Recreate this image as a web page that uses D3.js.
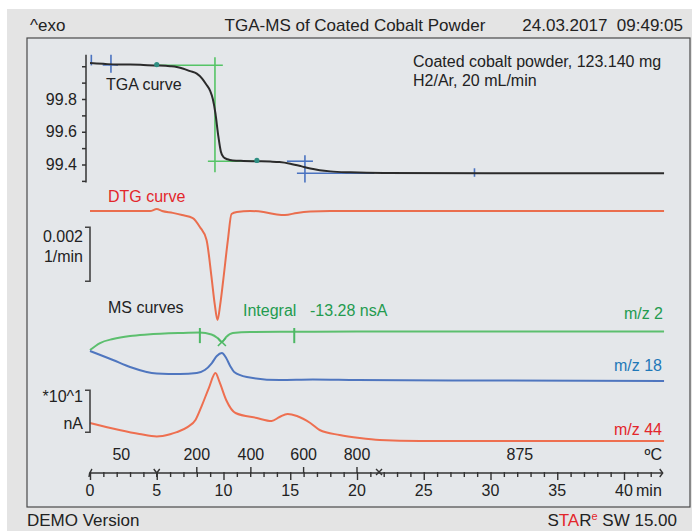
<!DOCTYPE html>
<html>
<head>
<meta charset="utf-8">
<script src="https://cdn.jsdelivr.net/npm/d3@7"></script>
<style>
  body { margin: 0; background: #fff; }
  svg { display: block; font-family: "Liberation Sans", Arial, sans-serif; }
</style>
</head>
<body>
<script>
// time axis (min) and furnace temperature labels (°C)
const timeTicks = [0, 5, 10, 15, 20, 25, 30, 35, 40];
const tempLabels = ["50", "200", "400", "600", "800", "875"];
const tempTimes = [2.35, 8.0, 12.05, 16.0, 20.0, 32.2];
const tempTickTimes = [8.0, 12.05, 16.0, 20.0];

// TGA curve, mass %
const tgaTime = [0, 1, 2, 3, 4, 5, 6, 6.5, 7, 7.5, 8, 8.4, 8.7, 9.0, 9.2, 9.4, 9.6, 9.8, 10.0, 10.3, 10.7, 11.5, 12.5, 13.5, 14.2, 15.0, 15.8, 16.5, 17.2, 18, 19.5, 22, 30, 43];
const tgaMass = [100.02, 100.015, 100.01, 100.01, 100.008, 100.005, 100.0, 99.995, 99.985, 99.97, 99.955, 99.925, 99.89, 99.85, 99.8, 99.71, 99.58, 99.48, 99.445, 99.432, 99.425, 99.422, 99.42, 99.418, 99.415, 99.405, 99.39, 99.375, 99.365, 99.358, 99.352, 99.348, 99.347, 99.347];
const tgaTicks = [100.0, 99.9, 99.8, 99.7, 99.6, 99.5, 99.4, 99.3];
const tgaLabelled = [99.8, 99.6, 99.4];

// step evaluation lines on the TGA curve
const stepLines = [
  [5.0, 100.006, 9.95, 100.006],
  [9.36, 100.055, 9.36, 99.353],
  [8.83, 99.42, 12.5, 99.42]
];
const stepDots = [[5.0, 100.01], [12.5, 99.425]];
const blueMarks = [
  [0.1, 100.07, 0.1, 100.005],
  [1.57, 100.07, 1.57, 99.96],
  [0.95, 100.008, 2.1, 100.008],
  [14.75, 99.42, 16.7, 99.42],
  [15.5, 99.347, 21.3, 99.347],
  [16.1, 99.457, 16.1, 99.29],
  [28.8, 99.377, 28.8, 99.325]
];

// DTG curve, 1/min
const dtgTime = [0, 2, 4.5, 5.0, 5.4, 6.2, 6.9, 7.7, 8.23, 8.73, 9.1, 9.35, 9.55, 9.75, 9.98, 10.33, 10.6, 11.0, 12.0, 13.0, 14.0, 14.6, 15.5, 16.5, 18, 43];
const dtgRate = [0, 0, 0, 0.00007, 0, -0.00007, -0.00015, -0.00026, -0.00059, -0.00107, -0.00244, -0.00348, -0.00404, -0.00348, -0.00256, -0.00107, -0.00011, -0.00004, 0, -0.00004, -0.00013, -0.00015, -0.00007, -0.00002, 0, 0];
const dtgBar = [-0.0026, -0.0006];

// MS ion currents, nA (displayed with offsets)
const ms2Time = [0, 0.75, 1.72, 3.0, 4.3, 6.7, 8.2, 9.1, 9.55, 9.88, 10.2, 10.7, 12, 15.3, 20, 30, 43];
const ms2Val = [21.67, 23.33, 24.29, 25.0, 25.36, 25.71, 25.83, 25.36, 24.52, 23.57, 24.76, 25.71, 25.95, 26.0, 26.07, 26.07, 26.07];
const ms18Time = [0, 1.72, 3.0, 5.0, 6.74, 8.0, 8.6, 9.13, 9.5, 9.88, 10.2, 10.5, 10.8, 11.75, 14.2, 16.7, 20, 30, 43];
const ms18Val = [21.43, 19.29, 17.62, 16.07, 15.95, 16.19, 16.9, 18.57, 20.24, 20.95, 19.76, 17.86, 16.43, 15.24, 14.52, 14.64, 14.52, 14.4, 14.29];
const ms44Time = [0, 2.2, 3.7, 5.0, 6.0, 6.5, 7.3, 7.9, 8.4, 8.9, 9.4, 9.7, 10.2, 10.9, 12.5, 13.6, 14.2, 14.8, 15.5, 16.5, 17.2, 18.7, 20.2, 21.7, 24.7, 43];
const ms44Val = [4.29, 2.62, 1.67, 1.07, 1.6, 2.1, 3.3, 5.0, 8.6, 12.6, 16.19, 14.05, 9.76, 6.67, 5.48, 4.76, 5.71, 6.43, 5.95, 4.29, 2.62, 1.43, 0.71, 0.24, 0, 0];
const integralTicks = [8.23, 15.3];
const msBar = [2.1, 12.1];

const W = 692, H = 531;
const svg = d3.select("body").append("svg").attr("width", W).attr("height", H);

// panels
svg.append("rect").attr("x", 7).attr("y", 9).attr("width", W - 7).attr("height", H - 9).attr("fill", "#e4e4e4");
svg.append("rect").attr("x", 27).attr("y", 38).attr("width", 663).attr("height", 469)
  .attr("fill", "#e4e7ea").attr("stroke", "#4a4a4a").attr("stroke-width", 1.2);

// scales
const x = d3.scaleLinear().domain([0, 40]).range([90, 624]);
const yTga = d3.scaleLinear().domain([99.4, 99.8]).range([164.5, 99]);
const yDtg = d3.scaleLinear().domain([-0.002, 0]).range([265, 211]);
const yMs = d3.scaleLinear().domain([0, 10]).range([441, 399]);

const lineOf = (ts, vs, y) => d3.line().x(i => x(ts[i])).y(i => y(vs[i])).curve(d3.curveMonotoneX)(d3.range(ts.length));

// header & footer
const hdr = svg.append("g").attr("font-size", 17).attr("fill", "#222");
hdr.append("text").attr("x", 30).attr("y", 31).text("^exo");
hdr.append("text").attr("x", 355).attr("y", 31).attr("text-anchor", "middle").text("TGA-MS of Coated Cobalt Powder");
hdr.append("text").attr("x", 683).attr("y", 31).attr("text-anchor", "end").text("24.03.2017  09:49:05").attr("xml:space", "preserve");
svg.append("text").attr("x", 27).attr("y", 526).attr("font-size", 17).attr("fill", "#222").text("DEMO Version");
const star = svg.append("text").attr("x", 677).attr("y", 526).attr("font-size", 17).attr("fill", "#222").attr("text-anchor", "end");
star.append("tspan").text("S");
star.append("tspan").attr("fill", "#e3262b").text("TA");
star.append("tspan").text("R");
star.append("tspan").attr("fill", "#e3262b").attr("font-size", 11).attr("dy", -6).text("e");
star.append("tspan").attr("dy", 6).text(" SW 15.00");

// TGA axis
const gTga = svg.append("g").attr("transform", "translate(86,0)")
  .call(d3.axisLeft(yTga).tickValues(tgaTicks).tickSize(4).tickPadding(5)
    .tickFormat(d => tgaLabelled.some(v => Math.abs(v - d) < 1e-6) ? d3.format(".1f")(d) : ""));
gTga.select(".domain").remove();
gTga.selectAll(".tick line").attr("stroke", "#333").attr("stroke-width", 1.5);
gTga.selectAll(".tick text").attr("font-size", 16).attr("fill", "#222").attr("font-family", "Liberation Sans, Arial, sans-serif");
gTga.append("line").attr("y1", yTga(100.07)).attr("y2", yTga(99.29)).attr("stroke", "#333").attr("stroke-width", 1.5);

// TGA markers
const seg = (g, arr, color, w) => g.selectAll(null).data(arr).join("line")
  .attr("x1", d => x(d[0])).attr("y1", d => yTga(d[1])).attr("x2", d => x(d[2])).attr("y2", d => yTga(d[3]))
  .attr("stroke", color).attr("stroke-width", w);
seg(svg.append("g"), stepLines, "#55c466", 1.6);
seg(svg.append("g"), blueMarks, "#4a73c0", 1.6);

svg.append("path").attr("d", lineOf(tgaTime, tgaMass, yTga)).attr("fill", "none").attr("stroke", "#2b2b2b").attr("stroke-width", 2);
svg.append("g").selectAll("circle").data(stepDots).join("circle")
  .attr("cx", d => x(d[0])).attr("cy", d => yTga(d[1])).attr("r", 2.6).attr("fill", "#2f8f83");

// DTG
svg.append("path").attr("d", lineOf(dtgTime, dtgRate, yDtg)).attr("fill", "none").attr("stroke", "#ea6e4e").attr("stroke-width", 2);

// MS curves
svg.append("path").attr("d", lineOf(ms2Time, ms2Val, yMs)).attr("fill", "none").attr("stroke", "#5cbf6e").attr("stroke-width", 2);
svg.append("path").attr("d", lineOf(ms18Time, ms18Val, yMs)).attr("fill", "none").attr("stroke", "#4f76bf").attr("stroke-width", 2);
svg.append("path").attr("d", lineOf(ms44Time, ms44Val, yMs)).attr("fill", "none").attr("stroke", "#ee6f50").attr("stroke-width", 2);

// integral limits on m/z 2
svg.append("g").selectAll("line").data(integralTicks).join("line")
  .attr("x1", d => x(d)).attr("x2", d => x(d)).attr("y1", yMs(26.9)).attr("y2", yMs(23.3))
  .attr("stroke", "#4cb864").attr("stroke-width", 2);
const dipX = x(9.88), dipY = yMs(23.57);
svg.append("path").attr("d", `M${dipX - 4},${dipY - 4}L${dipX + 4},${dipY + 4}M${dipX + 4},${dipY - 4}L${dipX - 4},${dipY + 4}`)
  .attr("stroke", "#4cb864").attr("stroke-width", 1.6);

// scale bars
const bracket = (y0, y1) => svg.append("path")
  .attr("d", `M85,${y0}H90V${y1}H85`).attr("fill", "none").attr("stroke", "#444").attr("stroke-width", 1.6);
bracket(yDtg(dtgBar[1]), yDtg(dtgBar[0]));
bracket(yMs(msBar[1]), yMs(msBar[0]));

// labels
const lab = (tx, ty, s, color, anchor) => svg.append("text").attr("x", tx).attr("y", ty).attr("font-size", 16)
  .attr("fill", color).attr("text-anchor", anchor || "start").text(s);
lab(106, 90, "TGA curve", "#222");
lab(413, 67, "Coated cobalt powder, 123.140 mg", "#222");
lab(413, 86, "H2/Ar, 20 mL/min", "#222");
lab(108, 202, "DTG curve", "#e3262b");
lab(83, 242, "0.002", "#222", "end");
lab(83, 262, "1/min", "#222", "end");
lab(108, 313, "MS curves", "#222");
lab(243, 316, "Integral", "#239b4f");
lab(310, 316, "-13.28 nsA", "#239b4f");
lab(663, 319, "m/z 2", "#239b4f", "end");
lab(662, 371, "m/z 18", "#1f78b8", "end");
lab(662, 435, "m/z 44", "#e3262b", "end");
lab(83, 402, "*10^1", "#222", "end");
lab(83, 429, "nA", "#222", "end");

// time axis
const axY = 473;
const gT = svg.append("g").attr("transform", `translate(0,${axY})`)
  .call(d3.axisBottom(x).tickValues(d3.range(0, 43)).tickSize(4).tickFormat(""));
gT.select(".domain").remove();
gT.selectAll(".tick line").attr("stroke", "#333").attr("stroke-width", 1.4).attr("y1", -1)
  .attr("y2", d => d % 5 === 0 ? 7 : 4);
gT.append("line").attr("x1", x(0)).attr("x2", x(42.9)).attr("stroke", "#333").attr("stroke-width", 1.6);
gT.append("g").selectAll("line").data(tempTickTimes).join("line")
  .attr("x1", d => x(d)).attr("x2", d => x(d)).attr("y1", -6).attr("y2", 0).attr("stroke", "#333").attr("stroke-width", 1.4);
// ends and event markers
gT.append("path").attr("d", `M${x(0) + 2},-4Q${x(0) - 1},0 ${x(0) - 1},4`).attr("fill", "none").attr("stroke", "#333").attr("stroke-width", 1.4);
gT.append("path").attr("d", `M${x(42.9) - 3},-4L${x(42.9)},0L${x(42.9) - 3},4`).attr("fill", "none").attr("stroke", "#333").attr("stroke-width", 1.4);
gT.append("path").attr("d", `M${x(5) - 3},-4L${x(5)},0L${x(5) + 3},-4M${x(5)},0V4`).attr("fill", "none").attr("stroke", "#333").attr("stroke-width", 1.4);
gT.append("path").attr("d", `M${x(21.65) - 3},-4L${x(21.65) + 3},2M${x(21.65) + 3},-4L${x(21.65) - 3},2`).attr("fill", "none").attr("stroke", "#333").attr("stroke-width", 1.4);

svg.append("g").selectAll("text").data(timeTicks).join("text")
  .attr("x", d => x(d)).attr("y", 496).attr("text-anchor", "middle").attr("font-size", 16).attr("fill", "#222").text(d => d);
lab(636, 496, "min", "#222");
svg.append("g").selectAll("text").data(tempLabels).join("text")
  .attr("x", (d, i) => x(tempTimes[i])).attr("y", 460).attr("text-anchor", "middle").attr("font-size", 16).attr("fill", "#222").text(d => d);
lab(662, 460, "ºC", "#222", "end");
</script>
</body>
</html>
